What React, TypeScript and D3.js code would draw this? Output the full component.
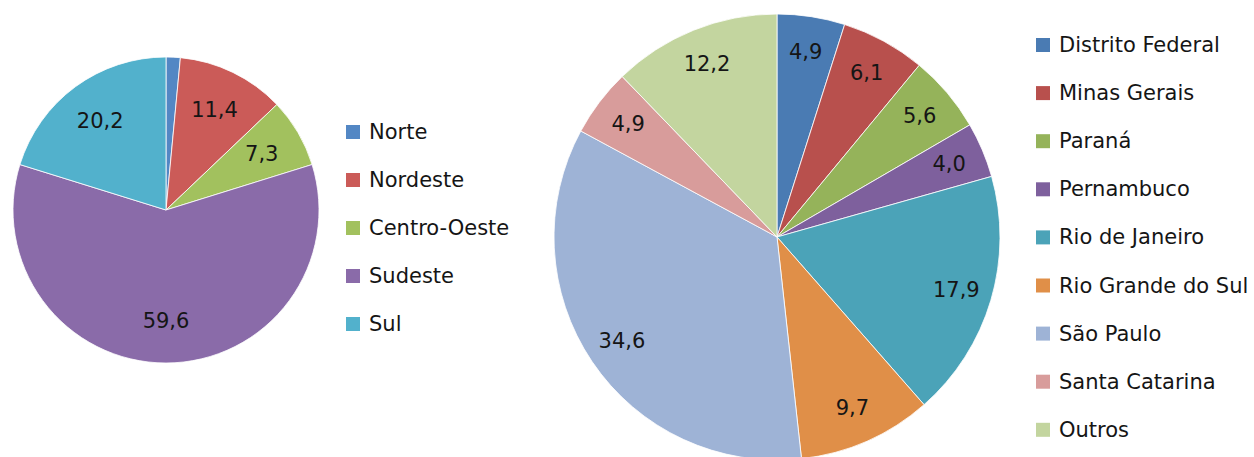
import React from "react";
import * as d3 from "d3";

const regionNames = ["Norte", "Nordeste", "Centro-Oeste", "Sudeste", "Sul"];
const regionValues = [1.5, 11.4, 7.3, 59.6, 20.2];
const regionLabels = ["", "11,4", "7,3", "59,6", "20,2"];
const regionColors = ["#5387C4", "#CB5B58", "#A2C15E", "#8A6BA9", "#52B1CC"];

const stateNames = [
  "Distrito Federal",
  "Minas Gerais",
  "Paraná",
  "Pernambuco",
  "Rio de Janeiro",
  "Rio Grande do Sul",
  "São Paulo",
  "Santa Catarina",
  "Outros",
];
const stateValues = [4.9, 6.1, 5.6, 4.0, 17.9, 9.7, 34.6, 4.9, 12.2];
const stateLabels = ["4,9", "6,1", "5,6", "4,0", "17,9", "9,7", "34,6", "4,9", "12,2"];
const stateColors = [
  "#4A7BB3",
  "#B8504D",
  "#95B35A",
  "#7E609D",
  "#4BA3B8",
  "#E08F48",
  "#9EB3D6",
  "#D89C9B",
  "#C3D59F",
];

const FONT = "DejaVu Sans, Verdana, sans-serif";

type PieProps = {
  cx: number;
  cy: number;
  r: number;
  labelR: number;
  values: number[];
  labels: string[];
  colors: string[];
};

function Pie({ cx, cy, r, labelR, values, labels, colors }: PieProps) {
  const pie = d3.pie<number>().sort(null).value((d) => d);
  const arcs = pie(values);
  const arc = d3.arc<d3.PieArcDatum<number>>().innerRadius(0).outerRadius(r);
  const labelArc = d3
    .arc<d3.PieArcDatum<number>>()
    .innerRadius(labelR)
    .outerRadius(labelR);
  return (
    <g transform={`translate(${cx},${cy})`}>
      {arcs.map((a, i) => (
        <path
          key={i}
          d={arc(a) || ""}
          fill={colors[i]}
          stroke="#ffffff"
          strokeWidth={0.8}
        />
      ))}
      {arcs.map((a, i) => {
        const [x, y] = labelArc.centroid(a);
        return (
          <text
            key={"l" + i}
            x={x}
            y={y}
            textAnchor="middle"
            dominantBaseline="central"
            fontFamily={FONT}
            fontSize={21}
            fill="#151515"
          >
            {labels[i]}
          </text>
        );
      })}
    </g>
  );
}

type LegendProps = {
  x: number;
  y0: number;
  step: number;
  names: string[];
  colors: string[];
};

function Legend({ x, y0, step, names, colors }: LegendProps) {
  return (
    <g>
      {names.map((n, i) => {
        const y = y0 + i * step;
        return (
          <g key={n}>
            <rect x={x} y={y - 7} width={14} height={14} fill={colors[i]} />
            <text
              x={x + 23}
              y={y}
              dominantBaseline="central"
              fontFamily={FONT}
              fontSize={21}
              fill="#151515"
            >
              {n}
            </text>
          </g>
        );
      })}
    </g>
  );
}

export default function App() {
  return (
    <svg
      width={1254}
      height={457}
      style={{ position: "absolute", left: 0, top: 0, background: "#fff" }}
    >
      <Pie
        cx={166}
        cy={210}
        r={153}
        labelR={111}
        values={regionValues}
        labels={regionLabels}
        colors={regionColors}
      />
      <Legend x={346} y0={132} step={48} names={regionNames} colors={regionColors} />
      <Pie
        cx={777}
        cy={237}
        r={223}
        labelR={187}
        values={stateValues}
        labels={stateLabels}
        colors={stateColors}
      />
      <Legend x={1036} y0={45} step={48.1} names={stateNames} colors={stateColors} />
    </svg>
  );
}
